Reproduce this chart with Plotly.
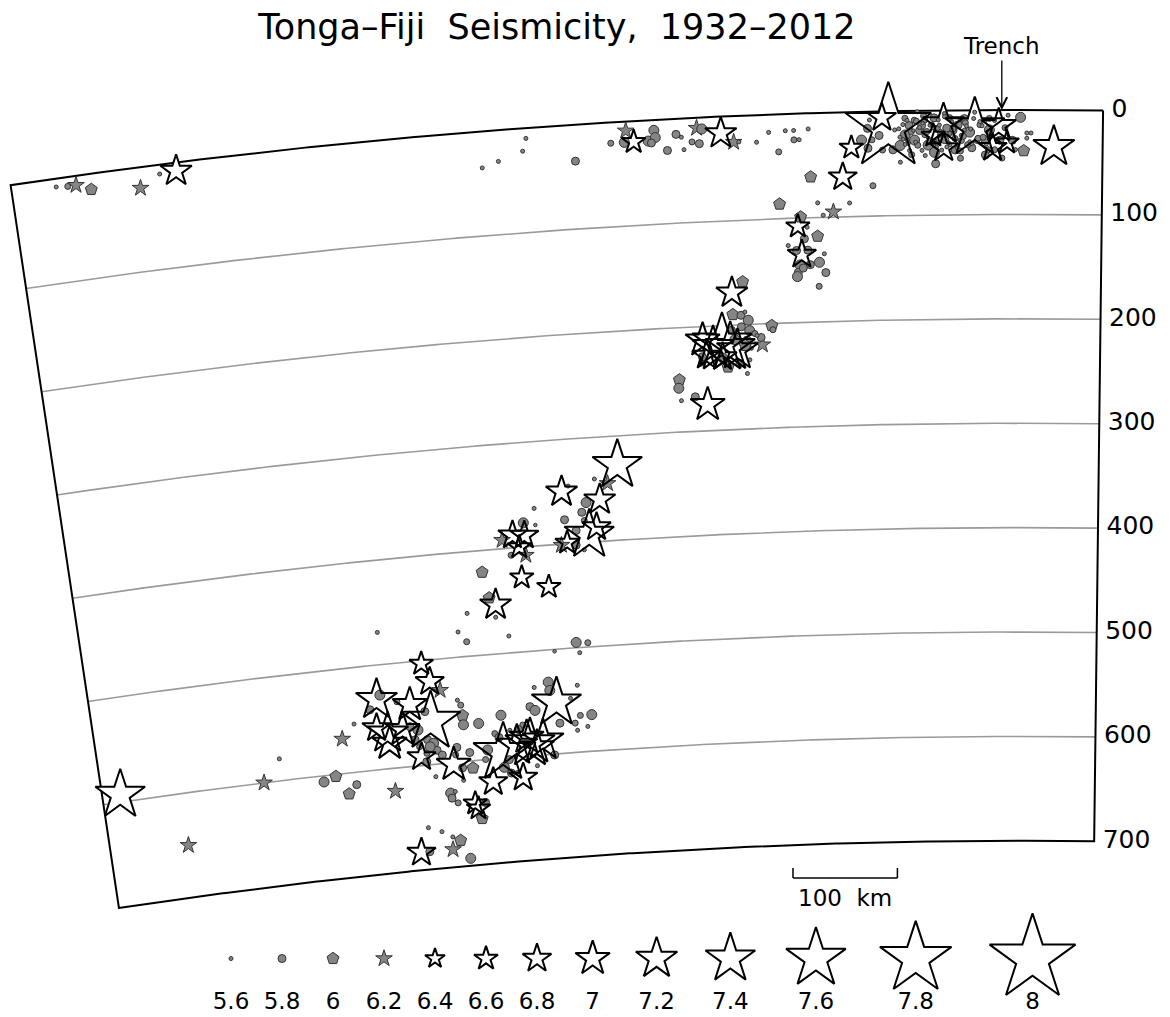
import numpy as np
import plotly.graph_objects as go

# ------------------------------------------------------------------ text / ticks
TITLE = "Tonga\u2013Fiji  Seismicity,  1932\u20132012"
depth_ticks = [0, 100, 200, 300, 400, 500, 600, 700]
depth_tick_labels = ["0", "100", "200", "300", "400", "500", "600", "700"]
grid_depths = [100, 200, 300, 400, 500, 600]
legend_mags = [5.6, 5.8, 6.0, 6.2, 6.4, 6.6, 6.8, 7.0, 7.2, 7.4, 7.6, 7.8, 8.0]
legend_labels = ["5.6", "5.8", "6", "6.2", "6.4", "6.6", "6.8", "7", "7.2", "7.4", "7.6", "7.8", "8"]
TRENCH_DIST_KM = 97
SCALE_KM = 100

# ------------------------------------------------------------------ events
# distance along the section from its trench-side (right) edge [km], depth [km], magnitude
dist_top_left = [1007, 996, 988, 974, 927, 907, 891]
depth_top_left = [8, 9, 9, 15, 20, 9, 8]
mag_top_left = [5.6, 5.7, 6.2, 6.0, 6.2, 5.6, 6.9]

dist_top_mid = [598, 582, 558, 554, 508, 473, 458, 460, 451, 437, 431, 430, 434, 419, 410, 405, 403, 395, 388,
                390, 385, 367, 355, 350, 333, 321, 312, 305, 297, 297, 292, 283, 282, 313, 276, 293, 296]
depth_top_mid = [35, 30, 22, 10, 35, 20, 9, 20, 20, 20, 10, 17, 22, 30, 15, 18, 30, 23, 25,
                 10, 11, 16, 25, 25, 26, 17, 36, 16, 16, 25, 25, 15, 61, 86, 86, 99, 108]
mag_top_mid = [5.6, 5.6, 5.6, 5.6, 5.8, 5.7, 6.2, 5.9, 6.6, 5.9, 5.9, 5.9, 5.8, 5.8, 5.8, 5.6, 5.6, 5.7, 5.8,
               6.2, 5.9, 6.9, 6.2, 5.6, 5.6, 5.6, 5.7, 5.6, 5.6, 5.7, 5.6, 5.6, 6.0, 6.0, 5.6, 6.0, 6.6]

dist_trench = [206, 123, 153, 153, 163, 106, 100, 92, 47, 242, 251, 212,
               226, 222, 226, 212, 202, 195, 190, 186, 181, 176, 171, 168, 162, 159, 152, 147, 145, 139, 136, 133,
               128, 126, 118, 113, 109, 104, 99, 94, 87, 79, 73, 69, 73, 76, 162, 142, 184, 195, 161, 178, 152,
               190, 215, 137, 113, 84, 97, 200, 155, 171, 123, 109, 91, 192, 181, 166, 178, 157, 142, 133, 130,
               147, 171, 186, 162, 137, 121, 174, 150, 188, 113, 224, 232, 222, 245, 261, 271,
               104, 108, 112, 116, 120, 124, 128, 132, 136, 140, 144, 148, 152, 156, 160, 164, 168, 172, 176, 180,
               184, 188, 192, 196, 110, 118, 126, 134, 142, 150, 158, 166, 174, 182, 190, 115, 131, 147, 163, 179,
               195, 101, 137, 173, 127, 145, 169, 187, 139, 157]
depth_trench = [15, 17, 13, 36, 24, 36, 15, 31, 35, 34, 62, 6,
                16, 27, 35, 37, 37, 33, 23, 14, 28, 19, 9, 33, 7, 17, 28, 7, 19, 14, 29, 8,
                21, 36, 14, 29, 19, 38, 29, 17, 29, 7, 22, 22, 27, 39, 40, 38, 42, 49, 51, 1, 3,
                7, 23, 46, 43, 38, 46, 18, 38, 43, 2, 8, 5, 13, 9, 14, 33, 24, 27, 19, 33,
                33, 23, 38, 30, 9, 29, 14, 17, 28, 10, 8, 27, 71, 87, 95, 98,
                10, 22, 33, 15, 27, 8, 30, 12, 24, 36, 18, 31, 6, 21, 35, 13, 26, 5, 16, 30,
                20, 9, 27, 17, 38, 11, 32, 25, 14, 35, 9, 29, 38, 19, 32, 26, 15, 22, 17, 10,
                25, 28, 39, 12, 18, 11, 20, 31, 33, 14]
mag_trench = [8.0, 7.6, 7.2, 6.8, 6.6, 6.8, 7.0, 6.6, 7.2, 6.6, 6.8, 6.8,
              5.8, 5.7, 5.8, 5.7, 5.8, 5.9, 5.9, 5.8, 5.9, 5.8, 5.7, 5.9, 5.8, 5.7, 5.8, 5.7, 5.9, 5.8, 5.7, 5.8,
              5.9, 5.8, 5.7, 5.8, 5.9, 5.7, 5.8, 5.7, 5.8, 5.9, 5.6, 5.6, 5.6, 6.0, 5.9, 5.8, 5.7, 5.6, 5.8, 5.6, 5.6,
              5.7, 5.8, 5.7, 5.8, 5.6, 5.7, 5.6, 5.6, 5.6, 5.6, 5.7, 5.6, 5.6, 5.7, 5.6, 5.7, 5.6, 5.7, 5.6, 5.7,
              5.6, 5.7, 5.6, 5.7, 5.6, 5.7, 5.8, 5.8, 5.6, 5.6, 5.6, 5.9, 5.7, 5.6, 6.2, 5.6,
              5.6, 5.7, 5.5, 5.6, 5.7, 5.6, 5.5, 5.7, 5.6, 5.6, 5.7, 5.5, 5.6, 5.7, 5.6, 5.6, 5.5, 5.7, 5.6, 5.6,
              5.7, 5.6, 5.5, 5.6, 5.7, 5.6, 5.6, 5.7, 5.5, 5.6, 5.6, 5.7, 5.6, 5.5, 5.6, 5.7, 5.6, 5.6, 5.5, 5.7,
              5.6, 5.6, 5.7, 5.5, 5.6, 5.6, 5.7, 5.6, 5.5, 5.6]

dist_slab_upper = [287, 277, 306, 290, 293, 298, 295, 297, 298, 285, 276, 271, 270, 277, 287, 292]
depth_slab_upper = [109, 118, 126, 120, 135, 131, 145, 152, 156, 145, 143, 135, 153, 166, 131, 148]
mag_slab_upper = [5.6, 6.0, 5.6, 5.8, 6.8, 5.8, 5.9, 5.8, 5.9, 5.8, 5.9, 5.6, 5.8, 5.7, 5.8, 5.8]

dist_slab_200 = [363, 352, 363, 355, 351, 348, 347, 355, 365, 325, 324, 335, 336, 342,
                 375, 394, 384, 367, 360, 375, 391,
                 370, 348, 351, 346, 362, 350, 375, 358, 395, 396, 340, 352,
                 419, 420, 418, 404, 392]
depth_slab_200 = [169, 159, 190, 191, 188, 196, 206, 202, 205, 202, 206, 220, 213, 209,
                  217, 213, 220, 221, 224, 230, 228,
                  240, 234, 247, 223, 214, 215, 231, 237, 229, 235, 211, 220,
                  250, 258, 270, 267, 275]
mag_slab_200 = [6.9, 6.0, 6.0, 5.8, 5.6, 5.9, 5.9, 5.8, 5.8, 6.1, 5.7, 6.2, 5.8, 5.7,
                7.6, 7.0, 7.2, 7.4, 7.2, 6.8, 6.8,
                6.0, 5.6, 5.6, 5.6, 5.9, 5.8, 5.9, 5.8, 5.8, 5.7, 5.6, 6.0,
                6.0, 5.9, 5.6, 5.8, 7.0]

dist_slab_mid = [486, 497, 510, 544, 537, 506, 520, 525, 573, 573, 543, 532, 523, 519, 511, 542, 548, 533, 525,
                 597, 585, 591, 608, 585, 585, 600, 631, 591, 564, 626, 620, 650, 621, 661, 609, 744,
                 540, 528, 537, 563, 653]
depth_slab_mid = [328, 345, 340, 350, 345, 360, 362, 371, 364, 380, 377, 388, 379, 393, 386, 399, 401, 402, 407,
                  388, 389, 400, 392, 377, 408, 407, 421, 429, 440, 446, 453, 459, 465, 476, 484, 469,
                  495, 496, 505, 502, 486]
mag_slab_mid = [7.4, 6.2, 5.6, 6.9, 5.6, 6.9, 5.9, 5.8, 5.6, 5.5, 5.8, 5.8, 5.7, 7.4, 6.8, 6.6, 6.2, 5.8, 5.6,
                6.8, 6.8, 6.6, 6.2, 5.9, 6.2, 5.7, 6.0, 6.6, 6.6, 6.0, 6.9, 5.6, 5.6, 5.6, 5.6, 5.6,
                5.9, 5.7, 5.6, 5.5, 5.7]

dist_deep_west = [702, 695, 685, 752, 718, 748, 760, 731, 703, 698, 744, 743, 728, 755, 720, 712, 703, 697, 694,
                  701, 712, 716, 705, 689, 664, 664, 648, 668, 665, 673, 675, 660, 792, 778, 711, 706, 678,
                  669, 658, 698, 669, 803, 782, 791, 742, 816, 879, 860, 1031, 967]
depth_deep_west = [503, 521, 530, 533, 541, 529, 542, 537, 549, 559, 566, 576, 564, 560, 562, 566, 576, 580, 587,
                   583, 582, 575, 589, 592, 556, 565, 565, 541, 546, 586, 593, 592, 567, 554, 592, 597, 602,
                   606, 607, 612, 618, 602, 612, 620, 622, 606, 600, 579, 593, 650]
mag_deep_west = [6.6, 6.8, 6.2, 7.2, 7.0, 5.9, 5.8, 5.7, 5.8, 7.6, 7.2, 7.0, 7.0, 6.8, 5.8, 5.9, 5.8, 5.9, 5.8,
                 5.9, 5.7, 5.8, 5.7, 5.8, 6.0, 5.9, 5.9, 5.6, 5.7, 5.8, 5.7, 5.8, 6.2, 5.6, 6.8, 5.8, 7.0,
                 5.8, 6.0, 5.6, 5.6, 6.0, 5.8, 6.0, 6.2, 5.9, 6.2, 5.6, 7.4, 6.2]

dist_deep_east = [624, 632, 628, 616, 625, 610, 596, 582, 599, 589, 565, 572, 571, 587, 542, 593, 588, 602, 563,
                  547, 541, 529, 534, 545, 550, 607, 571, 590, 641, 644, 619, 625, 618, 612, 638, 606, 684,
                  679, 677, 683, 659, 656, 653, 648, 711, 697, 686, 678, 687, 669, 721, 712]
depth_deep_east = [559, 576, 580, 574, 595, 589, 588, 586, 582, 592, 551, 531, 539, 535, 536, 553, 557, 570, 571,
                   572, 565, 565, 576, 579, 548, 574, 601, 610, 591, 600, 602, 609, 615, 615, 622, 620, 629,
                   628, 639, 634, 641, 646, 656, 641, 660, 665, 671, 675, 683, 693, 683, 683]
mag_deep_east = [5.9, 5.7, 5.8, 5.6, 7.6, 7.2, 7.4, 7.2, 7.0, 7.0, 7.4, 5.9, 5.9, 5.6, 5.6, 5.8, 5.9, 5.7, 5.8,
                 5.7, 5.7, 5.9, 5.6, 5.6, 5.6, 5.8, 5.8, 5.6, 5.9, 5.7, 5.8, 5.9, 5.8, 5.6, 6.8, 6.8, 5.9,
                 5.6, 5.7, 5.8, 6.6, 6.6, 6.0, 5.8, 5.6, 5.6, 5.6, 6.0, 6.2, 5.9, 6.8, 5.8]

dist_km = np.array(dist_top_left + dist_top_mid + dist_trench + dist_slab_upper + dist_slab_200
                   + dist_slab_mid + dist_deep_west + dist_deep_east, float)
depth_km = np.array(depth_top_left + depth_top_mid + depth_trench + depth_slab_upper + depth_slab_200
                    + depth_slab_mid + depth_deep_west + depth_deep_east, float)
magnitude = np.array(mag_top_left + mag_top_mid + mag_trench + mag_slab_upper + mag_slab_200
                     + mag_slab_mid + mag_deep_west + mag_deep_east, float)

# ------------------------------------------------------------------ geometry of the curved section
R_EFF = 6523.0        # km, radius used for the curved cross-section
PSI0 = -0.0122        # rad, angular position of the trench-side edge
SECTION_KM = 1050.0   # km, length of the section along the surface
MAX_DEPTH = 700.0
W, H = 1170, 1017
PX_PER_KM = 1.044
X_ORIGIN_PX, Y_SURF_PX = 1020, 110


def to_xy(dist, depth):
    dist = np.asarray(dist, float)
    depth = np.asarray(depth, float)
    psi = dist / R_EFF + PSI0
    r = R_EFF - depth
    return -r * np.sin(psi), r * np.cos(psi) - R_EFF


# ------------------------------------------------------------------ styling by magnitude
GRAY_FILL = "#858585"
GRAY_LINE = "#333333"


def style(m):
    if m < 5.95:
        return "circle", max(3.5, 4.0 + 20.0 * (m - 5.6)), "gray"
    if m < 6.15:
        return "pentagon", 12.5, "gray"
    if m < 6.35:
        return "star", 12.5, "gray"
    return "star", 15.0 * 1.2 ** ((m - 6.4) / 0.2), "white"


def add_events(fig, x, y, mags, xaxis="x", yaxis="y"):
    sty = [style(m) for m in mags]
    x = np.asarray(x)
    y = np.asarray(y)
    g = [i for i, s in enumerate(sty) if s[2] == "gray"]
    w = [i for i, s in enumerate(sty) if s[2] == "white"]
    w = sorted(w, key=lambda i: -sty[i][1])
    # white star bodies
    fig.add_trace(go.Scatter(x=x[w], y=y[w], mode="markers", xaxis=xaxis, yaxis=yaxis, hoverinfo="skip",
                             marker=dict(symbol="star", size=[sty[i][1] for i in w], color="white",
                                         opacity=1, line=dict(width=0))))
    # gray events
    fig.add_trace(go.Scatter(x=x[g], y=y[g], mode="markers", xaxis=xaxis, yaxis=yaxis, hoverinfo="skip",
                             marker=dict(symbol=[sty[i][0] for i in g], size=[sty[i][1] for i in g],
                                         color=GRAY_FILL, opacity=1, line=dict(width=1.0, color=GRAY_LINE))))
    # star outlines on top
    fig.add_trace(go.Scatter(x=x[w], y=y[w], mode="markers", xaxis=xaxis, yaxis=yaxis, hoverinfo="skip",
                             marker=dict(symbol="star-open", size=[sty[i][1] for i in w], color="black",
                                         opacity=1, line=dict(width=2.0, color="black"))))


fig = go.Figure()

# depth grid arcs
along = np.linspace(0, SECTION_KM, 300)
for d in grid_depths:
    gx, gy = to_xy(along, np.full_like(along, d))
    fig.add_trace(go.Scatter(x=gx, y=gy, mode="lines", hoverinfo="skip",
                             line=dict(color="#9a9a9a", width=1.6)))

# frame of the section
depths_edge = np.linspace(0, MAX_DEPTH, 50)
parts = [to_xy(along, np.zeros_like(along)),
         to_xy(np.full_like(depths_edge, SECTION_KM), depths_edge),
         to_xy(along[::-1], np.full_like(along, MAX_DEPTH)),
         to_xy(np.zeros_like(depths_edge), depths_edge[::-1])]
fx = np.concatenate([p[0] for p in parts])
fy = np.concatenate([p[1] for p in parts])
fig.add_trace(go.Scatter(x=fx, y=fy, mode="lines", hoverinfo="skip", line=dict(color="black", width=2)))

# events
ex, ey = to_xy(dist_km, depth_km)
add_events(fig, ex, ey, magnitude)

# depth labels along the right edge
tx, ty = to_xy(np.zeros(len(depth_ticks)), depth_ticks)
fig.add_trace(go.Scatter(x=tx, y=ty, mode="markers+text", text=depth_tick_labels, textposition="middle right",
                         hoverinfo="skip", marker=dict(size=12, opacity=0),
                         textfont=dict(size=25, color="black")))

# legend row
legend_w = []
for m in legend_mags:
    sym, sz, col = style(m)
    legend_w.append(sz * 1.33 if sym == "star" else sz)
lx = [231.0]
for i in range(len(legend_mags) - 1):
    half = (legend_w[i] + legend_w[i + 1]) / 2
    lx.append(lx[-1] + 51 + max(0.0, 1.3 * (half - 28)))
add_events(fig, lx, [0.5] * len(lx), legend_mags, xaxis="x2", yaxis="y2")
fig.add_trace(go.Scatter(x=lx, y=[0.12] * len(lx), mode="text", text=legend_labels, xaxis="x2", yaxis="y2",
                         hoverinfo="skip", textfont=dict(size=23, color="black")))

# trench marker
trx, try_ = to_xy([TRENCH_DIST_KM], [0])
fig.add_annotation(x=float(trx[0]), y=float(try_[0]), text="Trench", showarrow=True, ax=0, ay=-64,
                   arrowhead=5, arrowsize=1.6, arrowwidth=1.3, arrowcolor="black",
                   font=dict(size=23, color="black"))

# scale bar
SB_X0 = (793 - X_ORIGIN_PX) / PX_PER_KM
SB_Y0 = (Y_SURF_PX - 878) / PX_PER_KM
SB_TICK = 10 / PX_PER_KM
for (x0, y0, x1, y1) in [(SB_X0, SB_Y0, SB_X0 + SCALE_KM, SB_Y0), (SB_X0, SB_Y0, SB_X0, SB_Y0 + SB_TICK),
                         (SB_X0 + SCALE_KM, SB_Y0, SB_X0 + SCALE_KM, SB_Y0 + SB_TICK)]:
    fig.add_shape(type="line", x0=x0, y0=y0, x1=x1, y1=y1, xref="x", yref="y", line=dict(color="black", width=1.5))
fig.add_annotation(x=SB_X0 + SCALE_KM / 2, y=SB_Y0, text=f"{SCALE_KM}  km", showarrow=False, yanchor="top",
                   yshift=-5, font=dict(size=23, color="black"))

fig.update_layout(
    width=W, height=H, margin=dict(l=0, r=0, t=0, b=0),
    paper_bgcolor="white", plot_bgcolor="rgba(0,0,0,0)", showlegend=False,
    font=dict(family="DejaVu Sans", color="black"),
    title=dict(text=TITLE, x=0.476, y=1 - 27 / H, xanchor="center", yanchor="middle",
               font=dict(size=35, color="black", family="DejaVu Sans")),
    xaxis=dict(range=[-X_ORIGIN_PX / PX_PER_KM, (W - X_ORIGIN_PX) / PX_PER_KM], domain=[0, 1], visible=False),
    yaxis=dict(range=[(Y_SURF_PX - H) / PX_PER_KM, Y_SURF_PX / PX_PER_KM], domain=[0, 1], visible=False),
    xaxis2=dict(range=[0, W], domain=[0, 1], anchor="y2", visible=False),
    yaxis2=dict(range=[0, 1], domain=[0, 0.115], anchor="x2", visible=False),
)

fig.write_html("out.html", config={"displayModeBar": False},
               post_script="document.body.style.margin='0px';document.body.style.overflow='hidden';")
